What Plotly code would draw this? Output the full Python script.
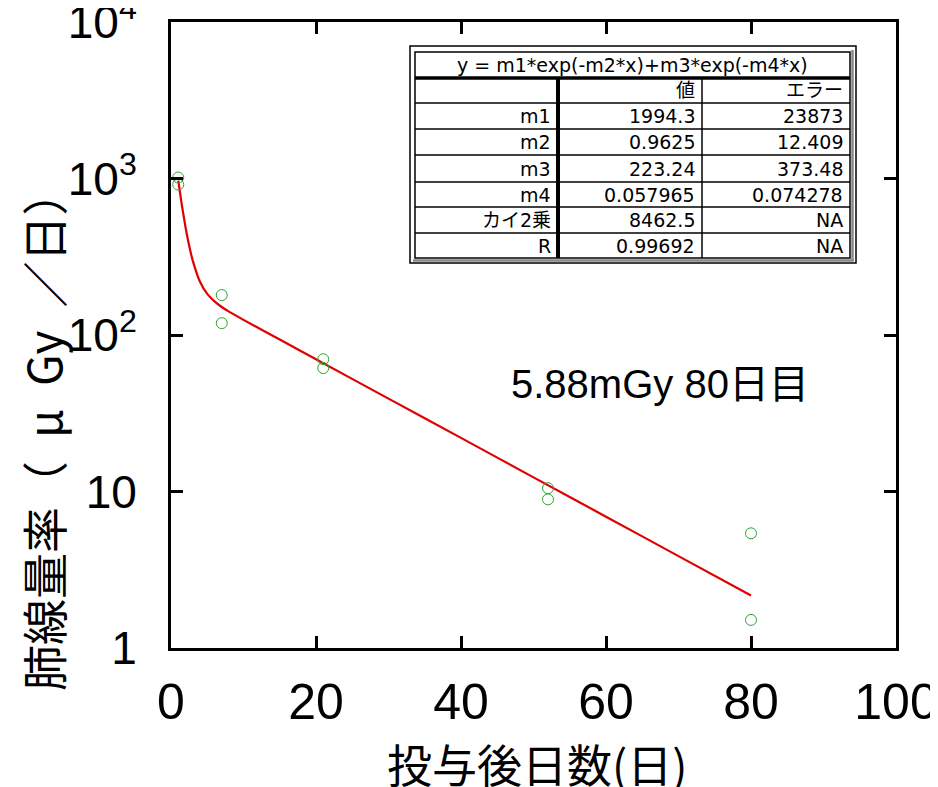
import plotly.graph_objects as go

# ---- data ----
days = [1, 1, 7, 7, 21, 21, 52, 52, 80, 80]
dose_rate = [1015, 915, 180, 119, 70, 61.5, 10.5, 8.9, 5.4, 1.51]

fit_days = [1, 1.5, 2, 2.5, 3, 4, 5, 6, 7, 8, 10, 15, 20, 30, 40, 50, 60, 70, 80]
fit_rate = [972, 675, 490, 373, 299, 219, 183, 164, 151, 141, 125, 93.6, 70.0, 39.2, 22.0, 12.3, 6.9, 3.86, 2.16]

y_tickvals = [1, 10, 100, 1000, 10000]
y_ticktext = ["1", "10", "10<sup>2</sup>", "10<sup>3</sup>", "10<sup>4</sup>"]
x_tickvals = [0, 20, 40, 60, 80, 100]

x_title = "投与後日数(日)"
y_title = "肺線量率（\u2002μ\u2002Gy\u2002／日）"
note_text = "5.88mGy 80日目"

table_title = "y = m1*exp(-m2*x)+m3*exp(-m4*x)"
table_header = ["", "値", "エラー"]
param_names = ["m1", "m2", "m3", "m4", "カイ2乗", "R"]
param_values = ["1994.3", "0.9625", "223.24", "0.057965", "8462.5", "0.99692"]
param_errors = ["23873", "12.409", "373.48", "0.074278", "NA", "NA"]

# ---- layout geometry (pixels) ----
OX, OY = 8, 8            # page body margin of the browser
W, H = 930, 779
L, R, T, B = 163, 42, 14, 139
PW, PH = W - L - R, H - T - B


def px(xp):
    return (xp - OX - L) / PW


def py(yp):
    return (OY + T + PH - yp) / PH


fig = go.Figure()
fig.add_trace(go.Scatter(x=fit_days, y=fit_rate, mode="lines",
                         line=dict(color="#e00000", width=2.2, shape="spline", smoothing=0.6),
                         showlegend=False, hoverinfo="skip"))
fig.add_trace(go.Scatter(x=days, y=dose_rate, mode="markers",
                         marker=dict(symbol="circle-open", size=11, color="#33a033", line=dict(width=1)),
                         showlegend=False))

shapes = []
annotations = []
FONT_T = "DejaVu Sans, Noto Sans CJK JP, sans-serif"

# table geometry
c0, c1, c2, c3 = 415, 558, 702, 850
rows = [52, 78, 103, 129, 155, 182, 207, 233, 258]


def line(x0, y0, x1, y1, w=1.5, color="black"):
    shapes.append(dict(type="line", xref="paper", yref="paper",
                       x0=px(x0), y0=py(y0), x1=px(x1), y1=py(y1),
                       line=dict(color=color, width=w)))


# background & double border
shapes.append(dict(type="rect", xref="paper", yref="paper", x0=px(410), y0=py(263), x1=px(856), y1=py(46),
                   fillcolor="white", line=dict(color="black", width=1.5)))
shapes.append(dict(type="rect", xref="paper", yref="paper", x0=px(c0), y0=py(rows[-1]), x1=px(c3), y1=py(rows[0]),
                   fillcolor="white", line=dict(color="black", width=1.5)))
line(852.5, 50, 852.5, 261, w=2.5, color="#888888")
line(413, 260.5, 854, 260.5, w=2.5, color="#888888")
# header underline (thick)
line(c0, rows[1], c3, rows[1], w=3.5)
# row lines
for r in rows[2:-1]:
    line(c0, r, c3, r, w=1.5)
# column lines
line(c1, rows[1], c1, rows[-1], w=4)
line(c2, rows[1], c2, rows[-1], w=1.5)

TS = 19
annotations.append(dict(xref="paper", yref="paper", x=px((c0 + c3) / 2), y=py((rows[0] + rows[1]) / 2),
                        text=table_title, showarrow=False, xanchor="center", yanchor="middle",
                        font=dict(family=FONT_T, size=TS, color="black")))
row_texts = [table_header] + [[n, v, e] for n, v, e in zip(param_names, param_values, param_errors)]
for i, rt in enumerate(row_texts):
    ymid = (rows[i + 1] + rows[i + 2]) / 2
    for xr, t in zip([c1 - 5, c2 - 5, c3 - 5], rt):
        if t:
            annotations.append(dict(xref="paper", yref="paper", x=px(xr), y=py(ymid), text=t,
                                    showarrow=False, xanchor="right", yanchor="middle",
                                    font=dict(family=FONT_T, size=TS, color="black")))

annotations.append(dict(xref="paper", yref="paper", x=px(660), y=py(384), text=note_text,
                        showarrow=False, xanchor="center", yanchor="middle",
                        font=dict(family="Liberation Sans, Noto Sans CJK JP, sans-serif", size=40, color="black")))

# axis titles (placed like the reference)
annotations.append(dict(xref="paper", yref="paper", x=px(42), y=py(430), text=y_title,
                        textangle=-90, showarrow=False, xanchor="center", yanchor="middle",
                        font=dict(family="Noto Sans CJK JP", size=46, color="black")))
annotations.append(dict(xref="paper", yref="paper", x=px(537), y=py(763), text=x_title,
                        showarrow=False, xanchor="center", yanchor="middle",
                        font=dict(family="Noto Sans CJK JP", size=45, color="black")))

fig.update_layout(
    width=W, height=H,
    margin=dict(l=L, r=R, t=T, b=B),
    paper_bgcolor="white", plot_bgcolor="white",
    shapes=shapes, annotations=annotations,
    showlegend=False,
)
fig.update_xaxes(range=[0, 100], tickvals=x_tickvals, ticks="inside", ticklen=12, tickwidth=3,
                 tickcolor="black", showline=True, linewidth=3, linecolor="black", mirror="ticks",
                 showgrid=False, zeroline=False, ticklabelstandoff=8, automargin=False,
                 ticklabeloverflow="allow",
                 tickfont=dict(family="Liberation Sans, sans-serif", size=50, color="black"))
fig.update_yaxes(type="log", range=[-0.0005, 4.0005], tickvals=y_tickvals, ticktext=y_ticktext, ticks="inside",
                 ticklen=12, tickwidth=3, tickcolor="black", showline=True, linewidth=3, linecolor="black",
                 mirror="ticks", showgrid=False, zeroline=False, ticklabelstandoff=22, automargin=False,
                 ticklabeloverflow="allow",
                 tickfont=dict(family="Liberation Sans, sans-serif", size=46, color="black"))

fig.write_html("out.html")
